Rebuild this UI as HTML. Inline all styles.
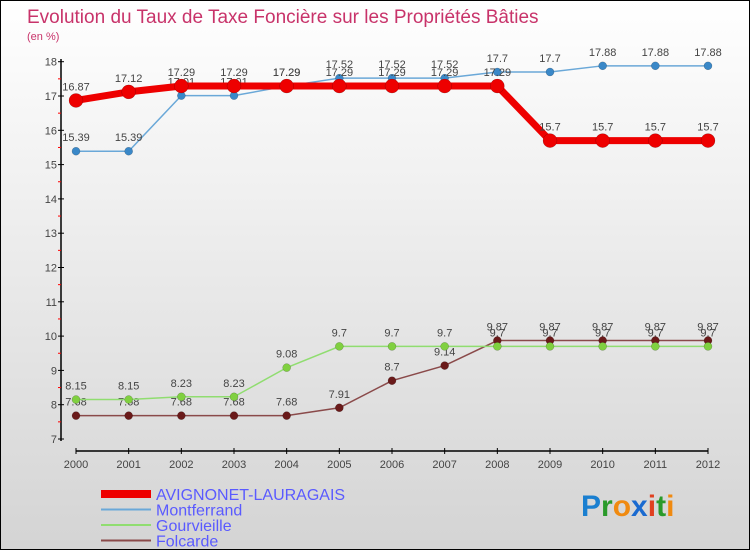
<!DOCTYPE html>
<html><head><meta charset="utf-8"><style>
body{margin:0;}
#wrap{width:748px;height:548px;border:1px solid #000;background:linear-gradient(#fff,#d4d4d4);position:relative;overflow:hidden;font-family:"Liberation Sans",sans-serif;}
</style></head><body>
<div id="wrap">
<svg id="chart" width="748" height="548" style="position:absolute;left:0;top:0">
<text x="26" y="22" font-size="19" fill="#c8336a">Evolution du Taux de Taxe Foncière sur les Propriétés Bâties</text>
<text x="26" y="39" font-size="11" fill="#c8336a">(en %)</text>
<g id="axes"></g><g id="series"></g><g id="legend"></g>
<text x="580" y="515" font-size="30" font-weight="bold"><tspan fill="#1a7fd0">P</tspan><tspan fill="#2a9a2a">r</tspan><tspan fill="#f08a10">o</tspan><tspan fill="#1a6ad0">x</tspan><tspan fill="#e04020">i</tspan><tspan fill="#2a9a2a">t</tspan><tspan fill="#f08a10">i</tspan></text>
</svg>
</div>
<script>
const years=[2000,2001,2002,2003,2004,2005,2006,2007,2008,2009,2010,2011,2012];
const avignonet=[16.87,17.12,17.29,17.29,17.29,17.29,17.29,17.29,17.29,15.7,15.7,15.7,15.7];
const montferrand=[15.39,15.39,17.01,17.01,17.29,17.52,17.52,17.52,17.7,17.7,17.88,17.88,17.88];
const gourvieille=[8.15,8.15,8.23,8.23,9.08,9.7,9.7,9.7,9.7,9.7,9.7,9.7,9.7];
const folcarde=[7.68,7.68,7.68,7.68,7.68,7.91,8.7,9.14,9.87,9.87,9.87,9.87,9.87];
const yTicks=[7,8,9,10,11,12,13,14,15,16,17,18];
const NS="http://www.w3.org/2000/svg";
const X=i=>75+i*(632/12);
const Y=v=>438-(v-7)*34.3;
function mk(tag,attrs,parent){const e=document.createElementNS(NS,tag);for(const k in attrs)e.setAttribute(k,attrs[k]);parent.appendChild(e);return e;}
const axes=document.getElementById('axes');
let l=mk('line',{x1:60,y1:58,x2:60,y2:440,stroke:'#000','stroke-width':1.5},axes);


l=mk('line',{x1:75,y1:450,x2:707,y2:450,stroke:'#000','stroke-width':1.5},axes);


yTicks.forEach(v=>{
 mk('line',{x1:57,y1:Y(v),x2:63,y2:Y(v),stroke:'#000'},axes);
 if(v<18) mk('line',{x1:57,y1:Y(v+0.5),x2:60,y2:Y(v+0.5),stroke:'#f00'},axes);
 const t=mk('text',{x:56,y:Y(v)+4,'font-size':11,fill:'#444','text-anchor':'end'},axes);
 t.textContent=v;
 
 
});
years.forEach((y,i)=>{
 mk('line',{x1:X(i),y1:447,x2:X(i),y2:453,stroke:'#000'},axes);
 const t=mk('text',{x:X(i),y:467,'font-size':11,fill:'#444','text-anchor':'middle'},axes);
 t.textContent=y;
 
 
});
const ser=document.getElementById('series');
function draw(data,color,w,r,pc,name){
 const g=mk('g',{},ser);
 
 
 mk('polyline',{points:data.map((v,i)=>X(i)+','+Y(v)).join(' '),fill:'none',stroke:color,'stroke-width':w},g);
 data.forEach((v,i)=>{
  const c=mk('circle',{cx:X(i),cy:Y(v),r:r,fill:pc,stroke:'rgba(0,0,0,0.3)','stroke-width':0.5},g);
  
  
  const t=mk('text',{x:X(i),y:Y(v)-10,'font-size':11,fill:'#444','text-anchor':'middle'},g);
  t.textContent=v;
  
  
 });
}
draw(folcarde,'#8a4a4a',1.5,4,'#6a1a1a','folcarde');
draw(gourvieille,'#90dd70',1.5,4,'#80d040','gourvieille');
draw(montferrand,'#6aa8d8',1.5,4,'#3a88c8','montferrand');
draw(avignonet,'#ee0000',7,7,'#ee0000','avignonet');
const lg=document.getElementById('legend');
const leg=[['AVIGNONET-LAURAGAIS','#ee0000',8],['Montferrand','#6aa8d8',2],['Gourvieille','#90dd70',2],['Folcarde','#8a4a4a',2]];
leg.forEach((e,i)=>{
 const y=493+i*15.5;
 const g=mk('g',{},lg);
 
 
 mk('line',{x1:100,y1:y,x2:150,y2:y,stroke:e[1],'stroke-width':e[2]},g);
 const t=mk('text',{x:155,y:y+6,'font-size':16,fill:'#5a5aff'},g);
 t.textContent=e[0];
});
</script>
</body></html>
